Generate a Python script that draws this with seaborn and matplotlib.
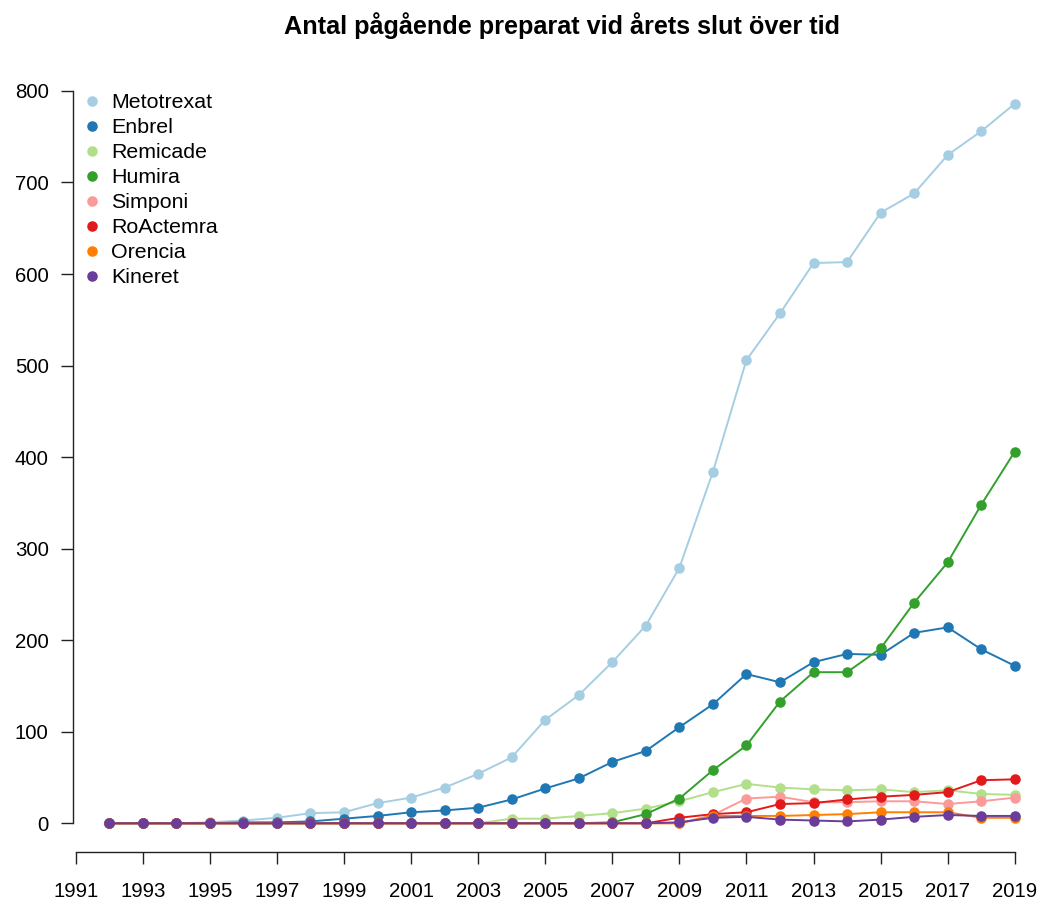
import matplotlib
matplotlib.use("Agg")
import matplotlib.pyplot as plt
import seaborn as sns
import pandas as pd
from matplotlib.lines import Line2D

years = list(range(1992, 2020))
drugs = ["Metotrexat", "Enbrel", "Remicade", "Humira", "Simponi", "RoActemra", "Orencia", "Kineret"]
colors = ["#A6CEE3", "#1F78B4", "#B2DF8A", "#33A02C", "#FB9A99", "#E31A1C", "#FF7F00", "#6A3D9A"]

metotrexat = [0, 0, 0, 1, 3, 6, 11, 12, 22, 28, 39, 54, 72, 113, 140, 176, 216, 279, 384, 506, 557, 612, 613, 667, 688, 730, 756, 786]
enbrel = [0, 0, 0, 0, 1, 1, 2, 5, 8, 12, 14, 17, 26, 38, 49, 67, 79, 105, 130, 163, 154, 176, 185, 184, 208, 214, 190, 172]
remicade = [0, 0, 0, 0, 0, 0, 0, 0, 0, 0, 0, 0, 5, 5, 8, 11, 16, 24, 34, 43, 39, 37, 36, 37, 34, 36, 32, 31]
humira = [0, 0, 0, 0, 0, 0, 0, 0, 0, 0, 0, 0, 0, 0, 0, 1, 10, 27, 58, 85, 133, 165, 165, 191, 241, 285, 348, 406]
simponi = [0, 0, 0, 0, 0, 0, 0, 0, 0, 0, 0, 0, 0, 0, 0, 0, 0, 0, 9, 27, 29, 23, 23, 24, 24, 21, 24, 28]
roactemra = [0, 0, 0, 0, 0, 0, 0, 0, 0, 0, 0, 0, 0, 0, 0, 0, 0, 6, 10, 12, 21, 22, 26, 29, 31, 34, 47, 48]
orencia = [0, 0, 0, 0, 0, 0, 0, 0, 0, 0, 0, 0, 0, 0, 0, 0, 0, 0, 8, 8, 8, 9, 10, 12, 12, 12, 6, 6]
kineret = [0, 0, 0, 0, 0, 0, 0, 0, 0, 0, 0, 0, 0, 0, 0, 0, 0, 1, 6, 7, 4, 3, 2, 4, 7, 9, 8, 8]

series = [metotrexat, enbrel, remicade, humira, simponi, roactemra, orencia, kineret]
x_ticks = list(range(1991, 2020, 2))
y_ticks = [0, 100, 200, 300, 400, 500, 600, 700, 800]
title = "Antal pågående preparat vid årets slut över tid"

rows = []
for d, vals in zip(drugs, series):
    for y, v in zip(years, vals):
        rows.append({"year": y, "value": v, "drug": d})
df = pd.DataFrame(rows)

plt.rcParams["font.family"] = ["Liberation Sans", "DejaVu Sans"]

fig = plt.figure(figsize=(10.4, 8.99), dpi=100)
ax = fig.add_axes([73 / 1040, 47 / 899, 978 / 1040, 777 / 899])

MS = 7.6
for d, c in zip(drugs, colors):
    sub = df[df["drug"] == d]
    sns.lineplot(data=sub, x="year", y="value", color=c, ax=ax, linewidth=1.4,
                 marker="o", markersize=MS, markeredgewidth=0, legend=False)

ax.set_xlim(1990.92, 2020.08)
ax.set_ylim(-31.4, 817.4)
ax.set_xticks(x_ticks)
ax.set_yticks(y_ticks)
ax.set_xticklabels([str(t) for t in x_ticks])
ax.set_yticklabels([str(t) for t in y_ticks])
ax.spines["top"].set_visible(False)
ax.spines["right"].set_visible(False)
ax.spines["left"].set_bounds(0, 800)
ax.spines["bottom"].set_bounds(1991, 2019)
for s in ["left", "bottom"]:
    ax.spines[s].set_linewidth(1.0)
    ax.spines[s].set_color("#222222")
ax.tick_params(axis="both", direction="out", length=8.6, width=1.0, color="#222222", labelsize=14.7)
ax.tick_params(axis="y", pad=9)
ax.tick_params(axis="x", pad=13)
ax.set_xlabel("")
ax.set_ylabel("")

handles = [Line2D([0], [0], linestyle="none", marker="o", markersize=MS, markeredgewidth=0,
                  color=c) for c in colors]
ax.legend(handles, drugs, loc="upper left", bbox_to_anchor=(-0.0125, 1.0), frameon=False,
          fontsize=15.4, handletextpad=0.3, labelspacing=0.28, borderaxespad=0.45,
          handlelength=1.2)

fig.text(562 / 1040, 1 - 26 / 899, title, ha="center", va="center", fontsize=18.2, fontweight="bold")

fig.savefig("out.png", dpi=100)
